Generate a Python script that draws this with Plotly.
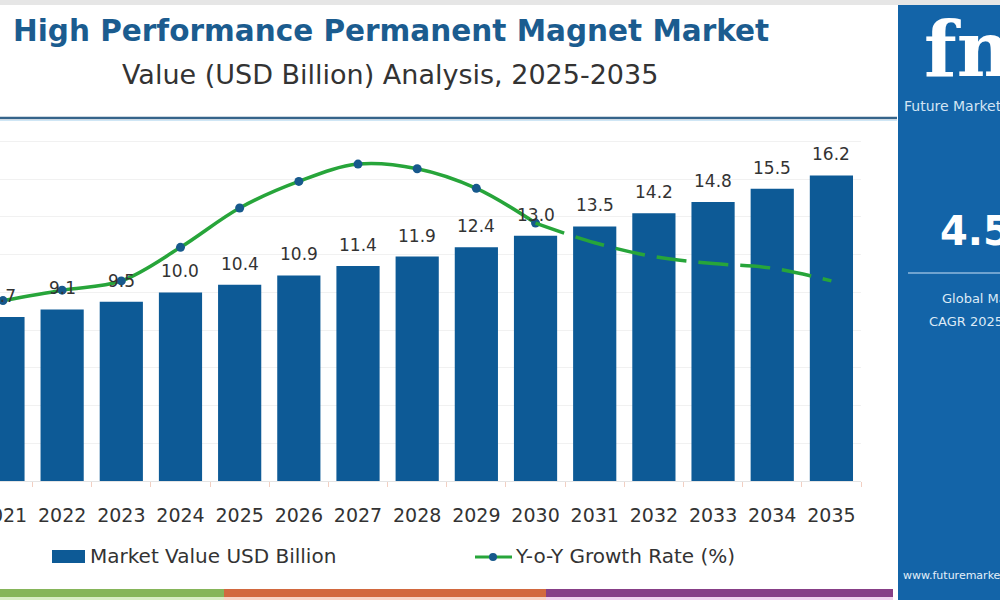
import plotly.graph_objects as go

# ---------------- data ----------------
years = [str(y) for y in range(2021, 2036)]
market_value = [8.7, 9.1, 9.5, 10.0, 10.4, 10.9, 11.4, 11.9, 12.4, 13.0, 13.5, 14.2, 14.8, 15.5, 16.2]
yoy_growth = [4.56, 4.65, 4.73, 5.02, 5.36, 5.59, 5.74, 5.70, 5.53, 5.23, 5.06, 4.94, 4.88, 4.84, 4.73]
split_year = "2030"

title_text = "High Performance Permanent Magnet Market"
subtitle_text = "Value (USD Billion) Analysis, 2025-2035"
bar_name = "Market Value USD Billion"
line_name = "Y-o-Y Growth Rate (%)"

# ---------------- layout helpers ----------------
W, H = 1000, 600
ML, MR, MT, MB = 0, 139, 134, 119
PW, PH = W - ML - MR, H - MT - MB


def px(x):
    return (x - ML) / PW


def py(y):
    return (H - MB - y) / PH


FONT = "DejaVu Sans"
BAR_COLOR = "#0d5a96"
LINE_COLOR = "#27a53a"
MARKER_COLOR = "#17598c"
SIDE_COLOR = "#1364a8"
TXT = "#333333"

k = years.index(split_year)

fig = go.Figure()
fig.add_trace(go.Bar(x=years, y=market_value, marker=dict(color=BAR_COLOR, line=dict(width=0)),
                     name=bar_name, showlegend=False, hoverinfo="x+y"))
fig.add_trace(go.Scatter(x=years[:k + 1], y=yoy_growth[:k + 1], yaxis="y2", mode="lines+markers",
                         line=dict(color=LINE_COLOR, width=3.5, shape="spline", smoothing=1.0),
                         marker=dict(color=MARKER_COLOR, size=9), name=line_name, showlegend=False))
fig.add_trace(go.Scatter(x=years[k:], y=yoy_growth[k:], yaxis="y2", mode="lines",
                         line=dict(color=LINE_COLOR, width=3.5, shape="spline", smoothing=1.0, dash="30px,12px"),
                         name=line_name, showlegend=False))

annotations = []
# value labels above bars (category axis -> serial index positions)
for i, v in enumerate(market_value):
    annotations.append(dict(x=i, y=v, xref="x", yref="y", text=f"{v:.1f}", showarrow=False,
                            yanchor="bottom", yshift=9, font=dict(family=FONT, size=17, color=TXT)))

# titles
annotations.append(dict(x=px(391), y=py(31), xref="paper", yref="paper", text=f"<b>{title_text}</b>",
                        showarrow=False, xanchor="center", yanchor="middle",
                        font=dict(family=FONT, size=29.5, color="#1b5c8f")))
annotations.append(dict(x=px(390), y=py(75), xref="paper", yref="paper", text=subtitle_text,
                        showarrow=False, xanchor="center", yanchor="middle",
                        font=dict(family=FONT, size=27, color=TXT)))

# custom legend
annotations.append(dict(x=px(88), y=py(556), xref="paper", yref="paper", text=bar_name, showarrow=False,
                        xanchor="left", yanchor="middle", font=dict(family=FONT, size=20, color=TXT)))
annotations.append(dict(x=px(513), y=py(556), xref="paper", yref="paper", text=line_name, showarrow=False,
                        xanchor="left", yanchor="middle", font=dict(family=FONT, size=20, color=TXT)))

# sidebar texts
annotations.append(dict(x=px(922), y=py(50), xref="paper", yref="paper", text="<b>fmi</b>", showarrow=False,
                        xanchor="left", yanchor="middle",
                        font=dict(family="DejaVu Serif", size=76, color="white")))
annotations.append(dict(x=px(902), y=py(106), xref="paper", yref="paper", text="Future Market Insights",
                        showarrow=False, xanchor="left", yanchor="middle",
                        font=dict(family=FONT, size=14, color="#d2e4f4")))
annotations.append(dict(x=px(938), y=py(231), xref="paper", yref="paper", text="<b>4.5%</b>", showarrow=False,
                        xanchor="left", yanchor="middle", font=dict(family=FONT, size=40, color="white")))
annotations.append(dict(x=px(940), y=py(298), xref="paper", yref="paper", text="Global Market Value",
                        showarrow=False, xanchor="left", yanchor="middle",
                        font=dict(family=FONT, size=13, color="#dceaf6")))
annotations.append(dict(x=px(927), y=py(321), xref="paper", yref="paper", text="CAGR 2025-2035",
                        showarrow=False, xanchor="left", yanchor="middle",
                        font=dict(family=FONT, size=13, color="#dceaf6")))
annotations.append(dict(x=px(901), y=py(575), xref="paper", yref="paper", text="www.futuremarketinsights.com",
                        showarrow=False, xanchor="left", yanchor="middle",
                        font=dict(family=FONT, size=11, color="#e4f0fa")))

shapes = []
# top gray band
shapes.append(dict(type="rect", xref="paper", yref="paper", x0=px(0), x1=px(1000), y0=py(0), y1=py(5),
                   fillcolor="#e6e6e6", line=dict(width=0), layer="below"))
# header separator
shapes.append(dict(type="line", xref="paper", yref="paper", x0=px(0), x1=px(897), y0=py(118), y1=py(118),
                   line=dict(color="#36648a", width=2.5)))
shapes.append(dict(type="line", xref="paper", yref="paper", x0=px(0), x1=px(897), y0=py(120.5), y1=py(120.5),
                   line=dict(color="#cfe6f5", width=1)))
# sidebar
shapes.append(dict(type="rect", xref="paper", yref="paper", x0=px(898), x1=px(1000), y0=py(5), y1=py(600),
                   fillcolor=SIDE_COLOR, line=dict(width=0)))
shapes.append(dict(type="line", xref="paper", yref="paper", x0=px(908), x1=px(1000), y0=py(273), y1=py(273),
                   line=dict(color="#8fb9de", width=1.5)))
# bottom colored strips
for x0, x1, c, pale in [(0, 224, "#86b55a", "#d9edc6"), (224, 546, "#d2693f", "#f8d5c7"),
                        (546, 893, "#873f87", "#f0d3ef")]:
    shapes.append(dict(type="rect", xref="paper", yref="paper", x0=px(x0), x1=px(x1), y0=py(589), y1=py(597),
                       fillcolor=c, line=dict(width=0)))
    shapes.append(dict(type="rect", xref="paper", yref="paper", x0=px(x0), x1=px(x1), y0=py(597), y1=py(600),
                       fillcolor=pale, line=dict(width=0)))
# legend symbols
shapes.append(dict(type="rect", xref="paper", yref="paper", x0=px(52), x1=px(85), y0=py(563), y1=py(550),
                   fillcolor=BAR_COLOR, line=dict(width=0)))
shapes.append(dict(type="line", xref="paper", yref="paper", x0=px(475), x1=px(512), y0=py(557), y1=py(557),
                   line=dict(color=LINE_COLOR, width=3)))
shapes.append(dict(type="circle", xref="paper", yref="paper", x0=px(489), x1=px(497), y0=py(561), y1=py(553),
                   fillcolor=MARKER_COLOR, line=dict(width=0)))

fig.update_layout(
    width=W, height=H,
    margin=dict(l=ML, r=MR, t=MT, b=MB, pad=0, autoexpand=False),
    paper_bgcolor="white", plot_bgcolor="white",
    bargap=0.27,
    showlegend=False,
    font=dict(family=FONT, color=TXT),
    xaxis=dict(type="category", range=[-0.05, 14.5], showline=True, linecolor="#e4e4e4", linewidth=1,
               ticks="outside", tickson="boundaries", ticklen=5, tickcolor="#f2cfc2",
               tickfont=dict(family=FONT, size=19, color=TXT), ticklabelstandoff=17,
               ticklabeloverflow="allow", automargin=False, showgrid=False, fixedrange=True),
    yaxis=dict(range=[0, 18.4], dtick=2, showgrid=True, gridcolor="#f1f1f1", gridwidth=1,
               showticklabels=False, zeroline=False, showline=False, automargin=False, fixedrange=True),
    yaxis2=dict(range=[3.0, 6.0], overlaying="y", side="right", showgrid=False, showticklabels=False,
                zeroline=False, showline=False, automargin=False, fixedrange=True),
    annotations=annotations,
    shapes=shapes,
)

fig.write_html("out.html")
